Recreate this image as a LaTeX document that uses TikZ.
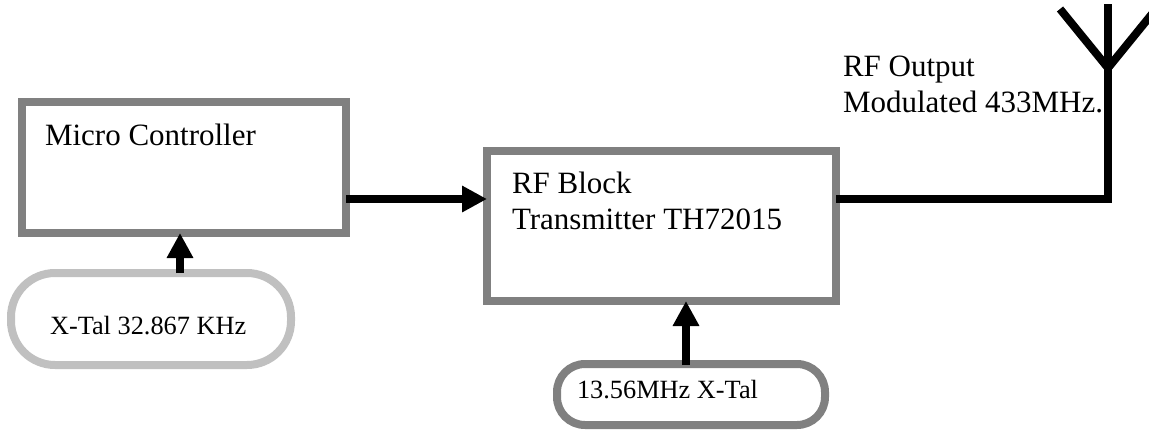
\documentclass[tikz,border=0pt]{standalone}
\usepackage{fontspec}
\setmainfont{Liberation Serif}
\usetikzlibrary{arrows.meta}
\definecolor{boxgrey}{HTML}{808080}
\definecolor{pillgrey}{HTML}{C0C0C0}
\tikzset{
  px/.style={x=0.75pt,y=-0.75pt},
  block/.style={draw=boxgrey,line width=6pt,outer sep=0pt,inner sep=0pt,rectangle},
  pill/.style={draw=#1,line width=6pt,outer sep=0pt,inner sep=0pt,rectangle},
  label/.style={anchor=base west,inner sep=0pt,outer sep=0pt,align=left},
  bigtext/.style={font=\fontsize{23.25}{27}\selectfont},
  smalltext/.style={font=\fontsize{19.75}{24}\selectfont},
  wire/.style={draw=black,line width=6pt},
  sig/.style={wire,-{Triangle[length=18.75pt,width=18.75pt]}}
}
\begin{document}
\begin{tikzpicture}[px]
\useasboundingbox (0,0) rectangle (1149,432);
\clip (0,0) rectangle (1149,432);
% blocks
\node[block,minimum width=243pt,minimum height=98.25pt] (mc) at (184,167.5) {};
\node[block,minimum width=261.75pt,minimum height=112.5pt] (rf) at (661.5,226) {};
\node[pill=pillgrey,rounded corners=33pt,minimum width=210pt,minimum height=69pt] (xt1) at (151,319) {};
\node[pill=boxgrey,rounded corners=21pt,minimum width=201pt,minimum height=45.75pt] (xt2) at (691,394.5) {};
% texts
\node[label,bigtext] (mct) at (45,145) {Micro Controller};
\node[label,bigtext] (rft) at (512,229) {RF Block\\Transmitter TH72015};
\node[label,bigtext] (out) at (843,112) {RF Output\\Modulated 433MHz.};
\node[label,smalltext] (xt1t) at (50,334) {X-Tal 32.867 KHz};
\node[label,smalltext] (xt2t) at (577,398) {13.56MHz X-Tal};
% connection points
\coordinate (mcout) at (mc.east |- 0,199);
\coordinate (rfin) at (rf.west |- 0,199);
\coordinate (mcin) at (180,233);
\coordinate (xt1top) at (180,273);
\coordinate (rfbot) at (686,301);
\coordinate (xt2top) at (686,365);
\coordinate (rfout) at (rf.east |- 0,199);
\coordinate (corner) at (1108,199);
\coordinate (anttop) at (1108,8);
\coordinate (antjoin) at (1108,68);
\coordinate (antl) at (1060,9);
\coordinate (antr) at (1156,9);
% connectors
\draw[sig] (mcout) -- (rfin);
\draw[sig] (xt1top) -- (mcin);
\draw[sig] (xt2top) -- (rfbot);
\draw[wire] (rfout) -- (corner);
\draw[wire,line cap=rect] (corner) -- (anttop);
\draw[wire,line join=miter] (antl) -- (antjoin) -- (antr);
\end{tikzpicture}
\end{document}
